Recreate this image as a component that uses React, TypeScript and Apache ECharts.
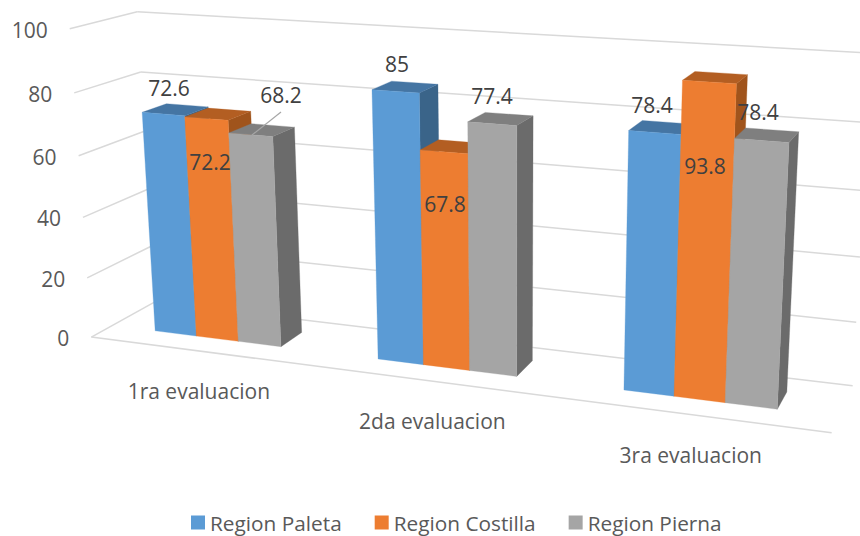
import React, { useEffect, useRef } from "react";
import * as echarts from "echarts";

const categories = ["1ra evaluacion", "2da evaluacion", "3ra evaluacion"];
const seriesNames = ["Region Paleta", "Region Costilla", "Region Pierna"];
const paleta = [72.6, 85, 78.4];
const costilla = [72.2, 67.8, 93.8];
const pierna = [68.2, 77.4, 78.4];
const valueTicks = [0, 20, 40, 60, 80, 100];

const seriesValues = [paleta, costilla, pierna];
const faceColors = ["#5B9BD5", "#ED7D31", "#A5A5A5"];
const topColors = ["#4575A3", "#B35E22", "#7F7F7F"];
const sideColors = ["#3A6489", "#A0541C", "#6B6B6B"];

// Where each data label sits (they were moved by hand in the original)
const labelAnchors = [
  [[169, 88], [397, 64], [652, 105]],
  [[210, 162], [445, 204], [705, 166]],
  [[281, 95], [492, 96], [758, 112]],
];

const W = 860;
const H = 536;

// Camera calibration: corners of the chart box (u, v, d) -> pixels
const calibration: number[][] = [
  [0, 0, 0, 90.7, 336.3],
  [1, 0, 0, 832.7, 432.5],
  [0, 1, 0, 70, 28],
  [0, 0, 1, 155, 303],
  [1, 0, 1, 851.7, 386],
  [0, 1, 1, 137, 12.3],
  [1, 1, 1, 872, 51.3],
  [1, 1, 0, 850, 78.5],
];

function solve(A: number[][], b: number[]) {
  const n = b.length;
  const M = A.map((r, i) => [...r, b[i]]);
  for (let c = 0; c < n; c++) {
    let p = c;
    for (let r = c + 1; r < n; r++) if (Math.abs(M[r][c]) > Math.abs(M[p][c])) p = r;
    [M[c], M[p]] = [M[p], M[c]];
    for (let r = 0; r < n; r++) {
      if (r === c) continue;
      const f = M[r][c] / M[c][c];
      for (let k = c; k <= n; k++) M[r][k] -= f * M[c][k];
    }
  }
  return M.map((r, i) => r[n] / r[i]);
}

function fitCamera() {
  const rows: number[][] = [];
  const rhs: number[] = [];
  calibration.forEach(([u, v, d, x, y]) => {
    rows.push([u, v, d, 1, 0, 0, 0, 0, -x * u, -x * v, -x * d]);
    rhs.push(x);
    rows.push([0, 0, 0, 0, u, v, d, 1, -y * u, -y * v, -y * d]);
    rhs.push(y);
  });
  const n = 11;
  const ATA = Array.from({ length: n }, (_, i) =>
    Array.from({ length: n }, (_, j) => rows.reduce((s, r) => s + r[i] * r[j], 0))
  );
  const ATb = Array.from({ length: n }, (_, i) => rows.reduce((s, r, k) => s + r[i] * rhs[k], 0));
  return solve(ATA, ATb);
}
const cam = fitCamera();

function project(u: number, v: number, d: number): number[] {
  const w = cam[8] * u + cam[9] * v + cam[10] * d + 1;
  return [
    (cam[0] * u + cam[1] * v + cam[2] * d + cam[3]) / w,
    (cam[4] * u + cam[5] * v + cam[6] * d + cam[7]) / w,
  ];
}

const groupWidth = 0.192;
const groupShift = -0.003;
const depthFront = 0.32;
const depthBack = 0.7;

const toBox = (api: any, cat: number, value: number) => {
  const c = api.coord([cat, value]);
  return { u: c[0] / W, v: 1 - c[1] / H };
};

function barRenderer(s: number) {
  return (_p: any, api: any) => {
    const { u, v } = toBox(api, api.value(0), api.value(1));
    const bw = groupWidth / 3;
    const u0 = u + groupShift - groupWidth / 2 + s * bw;
    const u1 = u0 + bw;
    const f = depthFront;
    const b = depthBack;
    const poly = (pts: number[][], fill: string) => ({
      type: "polygon",
      shape: { points: pts },
      style: { fill, stroke: fill, lineWidth: 0.3 },
    });
    return {
      type: "group",
      children: [
        poly([project(u1, 0, f), project(u1, 0, b), project(u1, v, b), project(u1, v, f)], sideColors[s]),
        poly([project(u0, v, f), project(u1, v, f), project(u1, v, b), project(u0, v, b)], topColors[s]),
        poly([project(u0, 0, f), project(u1, 0, f), project(u1, v, f), project(u0, v, f)], faceColors[s]),
      ],
    };
  };
}

const line = (a: number[], b: number[]) => ({
  type: "line",
  shape: { x1: a[0], y1: a[1], x2: b[0], y2: b[1] },
  style: { stroke: "#D9D9D9", lineWidth: 1.5 },
});

const wallRenderer = (_p: any, api: any) => {
  const tick = api.value(1);
  const { v } = toBox(api, 0, tick);
  const fl = project(0, v, 0);
  const children: any[] = [line(fl, project(0, v, 1)), line(project(0, v, 1), project(1, v, 1))];
  if (tick === 0) children.push(line(fl, project(1, 0, 0)));
  children.push({
    type: "text",
    style: {
      x: fl[0] - 22,
      y: fl[1] + 1,
      text: String(tick),
      fill: "#595959",
      font: '21px "Open Sans"',
      align: "right",
      verticalAlign: "middle",
    },
  });
  return { type: "group", children };
};

const categoryRenderer = (_p: any, api: any) => {
  const i = api.value(0);
  const { u } = toBox(api, i, 0);
  const p = project(u, 0, 0);
  return {
    type: "text",
    style: {
      x: p[0] - 1,
      y: p[1] + 40,
      text: categories[i],
      fill: "#595959",
      font: '21px "Open Sans"',
      align: "center",
      verticalAlign: "middle",
    },
  };
};

const labelRenderer = (_p: any, api: any) => {
  const cat = api.value(0);
  const s = api.value(2);
  const [x, y] = labelAnchors[s][cat];
  return {
    type: "text",
    z2: 100,
    style: {
      x,
      y,
      text: String(api.value(1)),
      fill: "#404040",
      font: '21px "Open Sans"',
      align: "center",
      verticalAlign: "middle",
    },
  };
};

export default function App() {
  const ref = useRef<HTMLDivElement>(null);
  useEffect(() => {
    const chart = echarts.init(ref.current!, undefined, { renderer: "svg" });
    chart.setOption({
      animation: false,
      backgroundColor: "#FFFFFF",
      color: faceColors,
      grid: { left: 0, top: 0, width: W, height: H },
      xAxis: { type: "category", data: categories, show: false },
      yAxis: { type: "value", min: 0, max: 100, show: false },
      legend: {
        data: seriesNames,
        left: 191,
        top: 512,
        padding: 0,
        icon: "rect",
        itemWidth: 14,
        itemHeight: 14,
        itemGap: 33,
        textStyle: { color: "#595959", fontSize: 20.8, fontFamily: "Open Sans" },
      },
      graphic: [
        {
          type: "line",
          z: 50,
          shape: { x1: 281, y1: 112, x2: 252, y2: 135 },
          style: { stroke: "#A6A6A6", lineWidth: 1.2 },
        },
      ],
      series: [
        {
          type: "custom",
          name: "walls",
          z: 1,
          silent: true,
          renderItem: wallRenderer,
          data: valueTicks.map((t) => [0, t]),
        },
        {
          type: "custom",
          name: "categories",
          z: 1,
          silent: true,
          renderItem: categoryRenderer,
          data: categories.map((_, i) => [i, 0]),
        },
        ...seriesNames.map((name, s) => ({
          type: "custom",
          name,
          z: 2 + s,
          renderItem: barRenderer(s),
          itemStyle: { color: faceColors[s] },
          data: seriesValues[s].map((v, i) => [i, v]),
        })),
        {
          type: "custom",
          name: "labels",
          z: 10,
          silent: true,
          renderItem: labelRenderer,
          data: seriesValues.flatMap((vals, s) => vals.map((v, i) => [i, v, s])),
        },
      ],
    });
    return () => chart.dispose();
  }, []);
  return <div ref={ref} style={{ position: "absolute", left: 0, top: 0, width: W, height: H }} />;
}
